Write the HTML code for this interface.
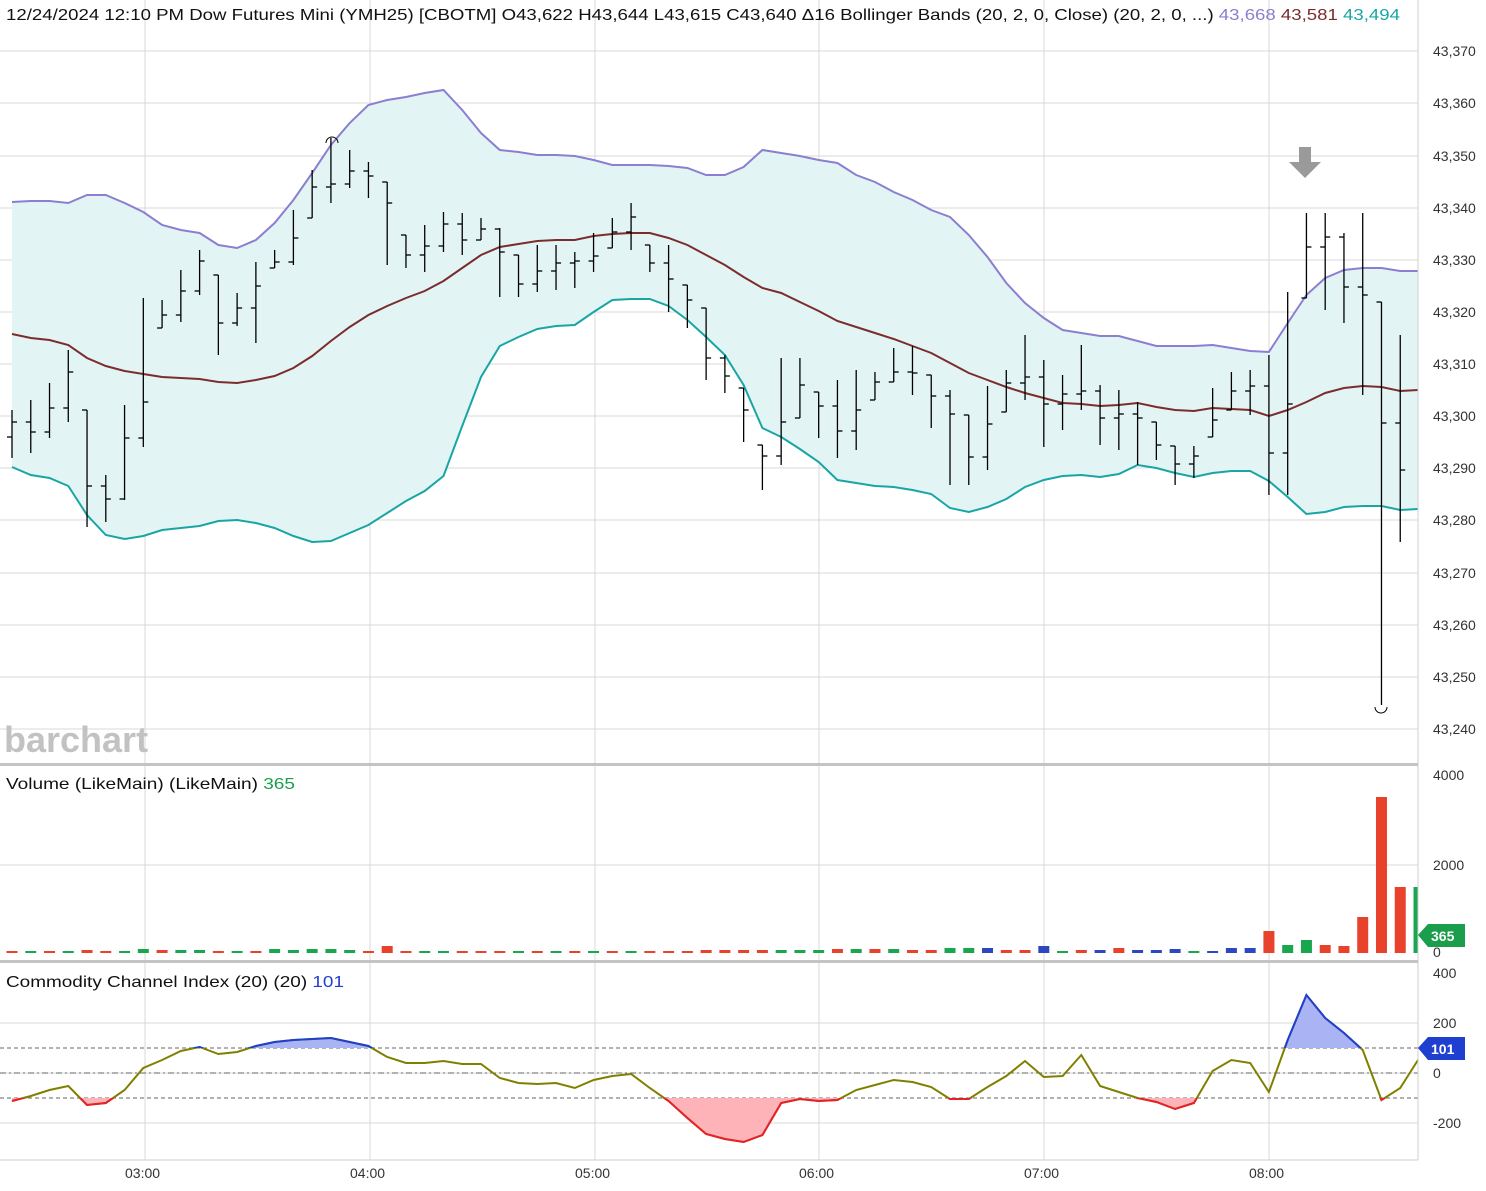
<!DOCTYPE html>
<html><head><meta charset="utf-8"><style>
body{margin:0;background:#fff;width:1486px;height:1191px;overflow:hidden;font-family:"Liberation Sans","DejaVu Sans",sans-serif}
svg{display:block}
text{font-family:"Liberation Sans","DejaVu Sans",sans-serif}
</style></head><body>
<svg id="s" width="1486" height="1191" xmlns="http://www.w3.org/2000/svg">
<defs>
<clipPath id="ab"><rect x="0" y="960" width="1418" height="88"/></clipPath>
<clipPath id="be"><rect x="0" y="1098" width="1418" height="70"/></clipPath>
</defs>
<g id="grid" stroke="#d9d9d9" stroke-width="1"></g>
<g id="content"></g>
<line x1="1418" y1="0" x2="1418" y2="1160" stroke="#cfcfcf"/>
<rect x="0" y="763" width="1418" height="3" fill="#c4c4c4"/>
<rect x="0" y="960" width="1418" height="3" fill="#c4c4c4"/>
<line x1="0" y1="1160" x2="1418" y2="1160" stroke="#cfcfcf"/>
<text x="6" y="20" font-size="16" fill="#111" textLength="1394" lengthAdjust="spacingAndGlyphs">12/24/2024 12:10 PM Dow Futures Mini (YMH25) [CBOTM] O43,622 H43,644 L43,615 C43,640 Δ16 Bollinger Bands (20, 2, 0, Close)  (20, 2, 0, ...) <tspan fill="#8a7fd0">43,668</tspan> <tspan fill="#7b2c2c">43,581</tspan> <tspan fill="#1aa5a5">43,494</tspan></text>
<text x="4" y="752" font-size="36" font-weight="bold" fill="#c2c2c2">barchart</text>
<text x="6" y="789" font-size="16" fill="#111" textLength="289" lengthAdjust="spacingAndGlyphs">Volume (LikeMain)  (LikeMain) <tspan fill="#1a9e4b">365</tspan></text>
<text x="6" y="987" font-size="16" fill="#111" textLength="338" lengthAdjust="spacingAndGlyphs">Commodity Channel Index (20)  (20) <tspan fill="#1f3fd0">101</tspan></text>
<g font-size="14" fill="#333">
<text x="1433" y="56">43,370</text><text x="1433" y="108">43,360</text><text x="1433" y="161">43,350</text><text x="1433" y="213">43,340</text><text x="1433" y="265">43,330</text><text x="1433" y="317">43,320</text><text x="1433" y="369">43,310</text><text x="1433" y="421">43,300</text><text x="1433" y="473">43,290</text><text x="1433" y="525">43,280</text><text x="1433" y="578">43,270</text><text x="1433" y="630">43,260</text><text x="1433" y="682">43,250</text><text x="1433" y="734">43,240</text>
<text x="1433" y="780">4000</text><text x="1433" y="870">2000</text><text x="1433" y="957">0</text>
<text x="1433" y="978">400</text><text x="1433" y="1028">200</text><text x="1433" y="1078">0</text><text x="1433" y="1128">-200</text>
<text x="125" y="1178">03:00</text><text x="350" y="1178">04:00</text><text x="575" y="1178">05:00</text><text x="799" y="1178">06:00</text><text x="1024" y="1178">07:00</text><text x="1249" y="1178">08:00</text>
</g>
<polygon points="1418,935 1428,924 1465,924 1465,947 1428,947" fill="#1a9e4b"/>
<text x="1431" y="941" font-size="14" font-weight="bold" fill="#fff">365</text>
<polygon points="1418,1048 1428,1037 1465,1037 1465,1060 1428,1060" fill="#1f3fd0"/>
<text x="1431" y="1054" font-size="14" font-weight="bold" fill="#fff">101</text>
</svg>
<script>
const NS="http://www.w3.org/2000/svg";
function el(t,a,p){const e=document.createElementNS(NS,t);for(const k in a)e.setAttribute(k,a[k]);(p||document.getElementById('content')).appendChild(e);return e;}
const G=document.getElementById('grid');
[51,103,156,208,260,312,364,416,468,520,573,625,677,729,865,1023,1073,1123].forEach(y=>el('line',{x1:0,x2:1418,y1:y,y2:y},G));
[145,370,595,819,1044,1269].forEach(x=>el('line',{x1:x,x2:x,y1:0,y2:1160},G));
const X=i=>12+i*18.76;
const up=[202,201,201,203,195,195,203,212,225,230,233,245,248,240,223,200,173,145,123,105,100,97,93,90,110,133,150,152,155,155,156,160,165,165,165,166,168,175,175,167,150,153,156,160,163,175,182,192,200,210,217,235,257,283,303,318,330,333,336,336,341,346,346,346,345,348,351,352,323,295,278,270,268,268,271,271];
const mid=[334,338,340,345,358,366,371,374,377,378,379,382,383,380,376,368,356,341,327,315,306,298,291,281,268,255,247,244,241,240,240,236,234,233,233,238,245,255,265,277,288,293,302,311,321,327,333,339,346,353,363,373,380,387,393,398,403,404,406,405,403,407,410,411,408,409,410,416,410,402,393,388,386,387,391,390];
const lo=[467,475,478,486,515,535,539,536,530,528,526,521,520,523,528,536,542,541,533,525,513,501,491,476,426,377,346,337,329,326,325,312,300,299,299,306,320,337,355,385,428,437,449,462,480,483,486,487,490,494,508,512,507,499,487,480,476,475,477,474,465,468,473,477,473,471,471,481,497,514,512,507,506,506,510,509];
const pts=a=>a.map((y,i)=>Math.min(X(i),1418).toFixed(1)+','+y).join(' ');
const band=pts(up)+' '+lo.map((y,i)=>[Math.min(X(i),1418),y]).reverse().map(p=>p[0].toFixed(1)+','+p[1]).join(' ');
el('polygon',{points:band,fill:'#e3f4f4'});
el('polyline',{points:pts(up),fill:'none',stroke:'#8a7fd0','stroke-width':2});
el('polyline',{points:pts(mid),fill:'none',stroke:'#7b2c2c','stroke-width':2});
el('polyline',{points:pts(lo),fill:'none',stroke:'#1aa5a5','stroke-width':2});
const bars=[[410,458],[400,453],[383,438],[350,422],[410,527],[475,522],[405,500],[298,447],[300,328],[270,322],[250,295],[275,355],[293,326],[262,343],[250,268],[210,265],[170,218],[138,203],[150,188],[162,198],[182,265],[235,268],[225,272],[212,252],[213,255],[218,240],[228,297],[255,297],[245,292],[245,290],[252,288],[233,272],[218,248],[203,250],[245,272],[245,312],[285,328],[308,380],[355,393],[388,442],[445,490],[358,465],[358,418],[392,438],[380,458],[370,450],[372,400],[348,382],[346,395],[375,428],[390,485],[415,485],[386,470],[370,412],[335,400],[360,447],[375,430],[345,410],[385,445],[390,450],[402,465],[422,460],[446,485],[446,478],[388,437],[372,410],[370,415],[355,495],[292,495],[213,298],[213,310],[233,323],[213,395],[302,705],[335,542]];
let prev=437;
bars.forEach((b,i)=>{const x=X(i);const s=((i*37)%10)/10;const c=Math.round(b[0]+(b[1]-b[0])*(0.25+0.5*s));let o=Math.min(Math.max(prev,b[0]),b[1]);
el('line',{x1:x,x2:x,y1:b[0],y2:b[1],stroke:'#000','stroke-width':1.3});
el('line',{x1:x-5,x2:x,y1:o,y2:o,stroke:'#000','stroke-width':1.3});
el('line',{x1:x,x2:x+5,y1:c,y2:c,stroke:'#000','stroke-width':1.3});prev=c;});
el('path',{d:'M326,143 A6,6 0 0 1 338,143',fill:'none',stroke:'#000'});
el('path',{d:'M1375,707 A6,6 0 0 0 1387,707',fill:'none',stroke:'#000'});
el('polygon',{points:'1299,147 1311,147 1311,162 1321,162 1305,178 1289,162 1299,162',fill:'#9a9a9a'});
const vc=['r','g','r','g','r','r','g','g','r','g','g','r','g','r','g','g','g','g','g','r','r','r','g','g','r','r','r','g','r','g','r','g','r','g','r','r','r','r','r','r','r','g','g','g','r','g','r','g','r','r','g','g','b','r','r','b','g','r','b','r','b','b','b','g','b','b','b','r','g','g','r','r','r','r','r','g'];
const vh=[2,2,2,2,3,2,2,4,3,3,3,2,2,2,4,3,4,4,3,2,7,2,2,2,2,2,2,2,2,2,2,2,2,2,2,2,2,3,3,3,3,3,3,3,4,4,4,4,3,3,5,5,5,3,3,7,2,3,3,5,3,3,4,2,2,5,5,22,8,13,8,7,36,156,66,66];
const col={r:'#e8412c',g:'#1aa54f',b:'#2c47c0'};
vh.forEach((h,i)=>{const x=X(i)-5.5;const w=Math.min(11,1418-x);if(w>0)el('rect',{x:x,y:953-h,width:w,height:h,fill:col[vc[i]]})});
const cci=[1101,1096,1090,1086,1105,1103,1090,1068,1060,1051,1047,1054,1052,1046,1042,1040,1039,1038,1042,1046,1057,1063,1063,1061,1064,1064,1078,1083,1084,1083,1088,1080,1076,1074,1088,1101,1118,1134,1139,1142,1135,1103,1099,1101,1100,1090,1085,1080,1082,1087,1099,1099,1087,1076,1061,1077,1076,1055,1086,1092,1098,1102,1109,1103,1071,1060,1063,1092,1040,995,1018,1033,1050,1100,1088,1060];
const cp=pts(cci);
el('line',{x1:0,x2:1418,y1:1048,y2:1048,stroke:'#666','stroke-dasharray':'4,3'});
el('line',{x1:0,x2:1418,y1:1098,y2:1098,stroke:'#666','stroke-dasharray':'4,3'});
el('line',{x1:0,x2:1418,y1:1073,y2:1073,stroke:'#666','stroke-dasharray':'6,3,2,3'});
el('polygon',{points:cp+` 1418,1048 12,1048`,fill:'#aab4f5','clip-path':'url(#ab)'});
el('polygon',{points:cp+` 1418,1098 12,1098`,fill:'#fdb3b8','clip-path':'url(#be)'});
el('polyline',{points:cp,fill:'none',stroke:'#808000','stroke-width':2});
el('polyline',{points:cp,fill:'none',stroke:'#1f3fd0','stroke-width':2,'clip-path':'url(#ab)'});
el('polyline',{points:cp,fill:'none',stroke:'#e8202c','stroke-width':2,'clip-path':'url(#be)'});
</script>
</body></html>
